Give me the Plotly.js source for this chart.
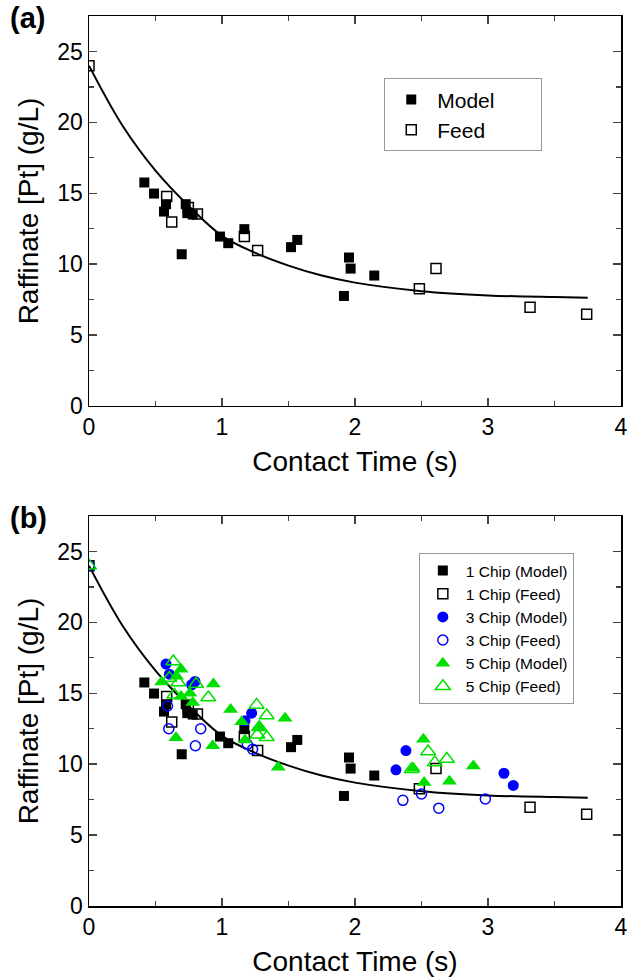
<!DOCTYPE html>
<html>
<head>
<meta charset="utf-8">
<script src="https://cdn.plot.ly/plotly-3.0.1.min.js"></script>
<style>html,body{margin:0;padding:0;background:#fff;}#chart{width:629px;height:978px;}</style>
</head>
<body>
<div id="chart"></div>
<script>
// ---- data ----
const fitT = [0, 0.25, 0.5, 0.75, 1.0, 1.25, 1.5, 1.75, 2.0, 2.5, 3.0, 3.5, 3.75];
const fitY = [24, 19.8, 16.6, 14.1, 12.0, 10.8, 9.9, 9.2, 8.7, 8.1, 7.8, 7.68, 7.64];

const chip1ModelT = [0.416, 0.489, 0.564, 0.579, 0.697, 0.727, 0.739, 0.78, 0.985, 1.047, 1.168, 1.519, 1.566, 1.917, 1.955, 1.967, 2.145];
const chip1ModelY = [15.76, 14.98, 13.71, 14.23, 10.7, 14.23, 13.6, 13.5, 11.95, 11.48, 12.47, 11.2, 11.71, 7.76, 10.47, 9.69, 9.2];

const chip1FeedT = [0, 0.584, 0.622, 0.747, 0.815, 1.168, 1.268, 2.484, 2.609, 3.316, 3.742];
const chip1FeedY = [24, 14.77, 12.98, 14.0, 13.53, 11.95, 10.96, 8.26, 9.69, 6.96, 6.47];

const chip3ModelT = [0.579, 0.604, 0.772, 0.797, 1.173, 1.223, 2.308, 2.383, 3.12, 3.19];
const chip3ModelY = [17.06, 16.35, 15.6, 15.83, 13.06, 13.6, 9.6, 10.96, 9.36, 8.5];

const chip3FeedT = [0, 0.59, 0.6, 0.8, 0.84, 1.19, 1.23, 2.36, 2.5, 2.63, 2.98];
const chip3FeedY = [24, 14.1, 12.5, 11.3, 12.5, 11.4, 11.05, 7.45, 7.9, 6.9, 7.55];

const chip5ModelT = [0.546, 0.659, 0.692, 0.692, 0.759, 0.78, 0.935, 1.065, 1.148, 1.173, 1.278, 1.474, 1.423, 0.654, 0.93, 2.438, 2.514, 2.52, 2.71, 2.89];
const chip5ModelY = [15.8, 16.2, 16.7, 14.77, 15.0, 14.35, 15.65, 13.85, 13.0, 11.7, 12.6, 13.24, 9.79, 11.86, 11.3, 9.72, 11.76, 8.7, 8.8, 9.88];

const chip5FeedT = [0, 0.604, 0.634, 0.642, 0.672, 0.805, 0.897, 1.26, 1.266, 1.28, 1.336, 1.336, 2.426, 2.55, 2.6, 2.69];
const chip5FeedY = [24, 16.07, 17.24, 14.9, 15.76, 15.65, 14.7, 14.18, 12.07, 12.6, 13.43, 11.9, 9.65, 10.89, 10.11, 10.37];

const legendA = ['Model', 'Feed'];
const legendB = ['1 Chip (Model)', '1 Chip (Feed)', '3 Chip (Model)', '3 Chip (Feed)', '5 Chip (Model)', '5 Chip (Feed)'];

// ---- styles ----
const BLUE = '#0000ff', GREEN = '#00e000';
function sq(open){ return {symbol: open ? 'square-open' : 'square', size: 10, color: '#000', line:{width: open?1.5:0, color:'#000'}}; }
const PAD = '\u00a0\u00a0\u00a0\u00a0\u00a0\u00a0\u00a0';

const traces = [
  // panel (a)
  {x: fitT, y: fitY, mode:'lines', line:{color:'#000', width:2, shape:'spline'}, showlegend:false, xaxis:'x', yaxis:'y', hoverinfo:'skip'},
  {x: chip1ModelT, y: chip1ModelY, mode:'markers', name: legendA[0] + PAD, marker: sq(false), xaxis:'x', yaxis:'y', legend:'legend'},
  {x: chip1FeedT, y: chip1FeedY, mode:'markers', name: legendA[1] + PAD, marker: sq(true), xaxis:'x', yaxis:'y', legend:'legend'},
  // panel (b)
  {x: fitT, y: fitY, mode:'lines', line:{color:'#000', width:2, shape:'spline'}, showlegend:false, xaxis:'x2', yaxis:'y2', hoverinfo:'skip'},
  {x: chip1ModelT, y: chip1ModelY, mode:'markers', name: legendB[0], marker: sq(false), xaxis:'x2', yaxis:'y2', legend:'legend2'},
  {x: chip1FeedT, y: chip1FeedY, mode:'markers', name: legendB[1], marker: sq(true), xaxis:'x2', yaxis:'y2', legend:'legend2'},
  {x: chip3ModelT, y: chip3ModelY, mode:'markers', name: legendB[2], marker:{symbol:'circle', size:11, color:BLUE}, xaxis:'x2', yaxis:'y2', legend:'legend2'},
  {x: chip3FeedT, y: chip3FeedY, mode:'markers', name: legendB[3], marker:{symbol:'circle-open', size:10, color:BLUE, line:{width:1.5, color:BLUE}}, xaxis:'x2', yaxis:'y2', legend:'legend2'},
  {x: chip5ModelT, y: chip5ModelY, mode:'markers', name: legendB[4], marker:{symbol:'triangle-up', size:13, color:GREEN}, xaxis:'x2', yaxis:'y2', legend:'legend2'},
  {x: chip5FeedT, y: chip5FeedY, mode:'markers', name: legendB[5], marker:{symbol:'triangle-up-open', size:13, color:GREEN, line:{width:1.5, color:GREEN}}, xaxis:'x2', yaxis:'y2', legend:'legend2'}
];

const FONT = 'Liberation Sans, Arial, sans-serif';
function xax(anchor){
  return {anchor: anchor, domain:[0,1], range:[0,4], dtick:1, tick0:0, ticks:'inside', ticklen:8, tickwidth:1.5,
    showline:true, linewidth:1.5, linecolor:'#000', mirror:'ticks', showgrid:false, zeroline:false,
    tickfont:{family:FONT, size:23, color:'#000'},
    minor:{dtick:0.5, ticks:'inside', ticklen:5, tickwidth:1.2, showgrid:false},
    title:{text:'Contact Time (s)', font:{family:FONT, size:28, color:'#000'}, standoff:12}};
}
function yax(anchor, dom){
  return {anchor: anchor, domain: dom, range:[0,27.5], dtick:5, tick0:0, ticks:'inside', ticklen:8, tickwidth:1.5,
    showline:true, linewidth:1.5, linecolor:'#000', mirror:'ticks', showgrid:false, zeroline:false,
    tickfont:{family:FONT, size:23, color:'#000'},
    minor:{dtick:2.5, ticks:'inside', ticklen:5, tickwidth:1.2, showgrid:false},
    title:{text:'Raffinate [Pt] (g/L)', font:{family:FONT, size:28, color:'#000'}, standoff:10}};
}

const layout = {
  width:629, height:978,
  margin:{l:89, r:8, t:16, b:72, autoexpand:false},
  paper_bgcolor:'#fff', plot_bgcolor:'#fff',
  font:{family:FONT, color:'#000'},
  xaxis: xax('y'),
  yaxis: yax('x', [0.5618, 1]),
  xaxis2: xax('y2'),
  yaxis2: yax('x2', [0, 0.4382]),
  legend:{x:0.555, y:0.930, xanchor:'left', yanchor:'top', bordercolor:'#999', borderwidth:1, bgcolor:'#fff',
    font:{family:FONT, size:21, color:'#000'}, tracegroupgap:2, itemwidth:42},
  legend2:{x:0.620, y:0.3966, xanchor:'left', yanchor:'top', bordercolor:'#999', borderwidth:1, bgcolor:'#fff',
    font:{family:FONT, size:15.5, color:'#000'}, tracegroupgap:0, itemwidth:36},
  annotations:[
    {text:'<b>(a)</b>', xref:'paper', yref:'paper', x:-0.152, y:1.0, xanchor:'left', yanchor:'top', showarrow:false, font:{family:FONT, size:29, color:'#000'}, yshift:16},
    {text:'<b>(b)</b>', xref:'paper', yref:'paper', x:-0.152, y:0.4382, xanchor:'left', yanchor:'top', showarrow:false, font:{family:FONT, size:29, color:'#000'}, yshift:16}
  ],
  showlegend:true
};

Plotly.newPlot('chart', traces, layout, {staticPlot:true, displayModeBar:false});
</script>
</body>
</html>
